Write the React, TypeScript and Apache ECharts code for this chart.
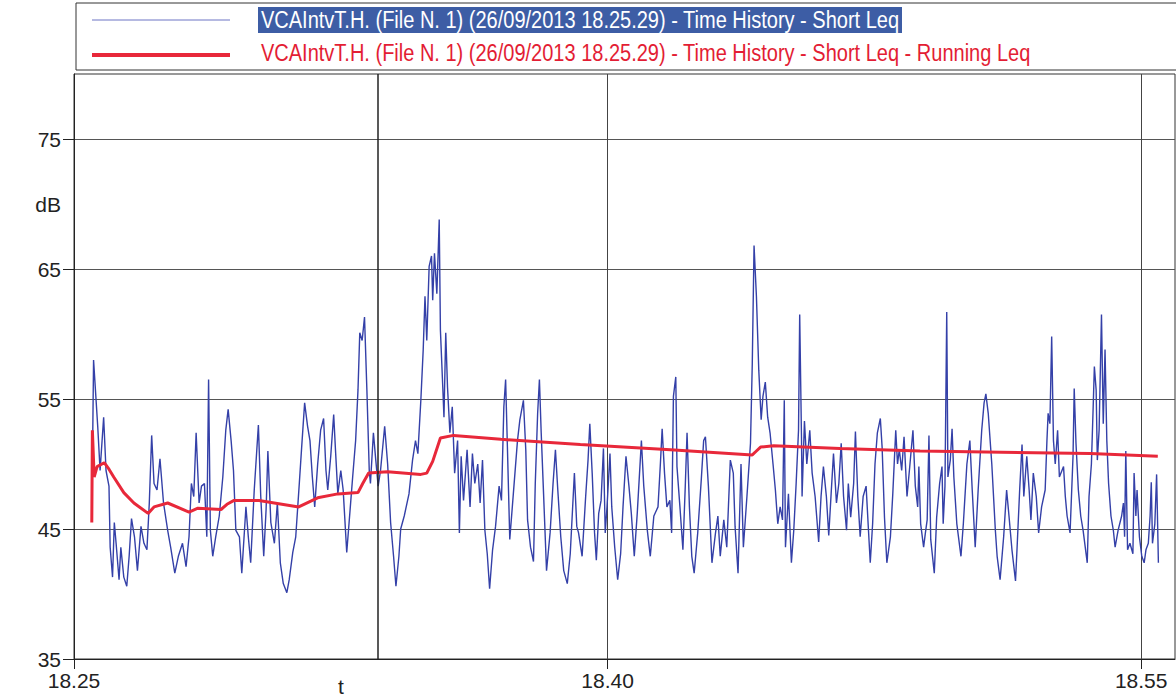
import { useEffect, useRef } from 'react';
import * as echarts from 'echarts';

const FONT = "'Liberation Sans', Arial, sans-serif";

const legendNames = [
  'VCAIntvT.H. (File N. 1) (26/09/2013 18.25.29) - Time History - Short Leq',
  'VCAIntvT.H. (File N. 1) (26/09/2013 18.25.29) - Time History - Short Leq - Running Leq',
];

// x axis: seconds after 18:25:00
const xTickSeconds = [0, 900, 1800];
const xTickLabels = ['18.25', '18.40', '18.55'];
const xAxisName = 't';
const yTickValues = [35, 45, 55, 65, 75];
const yUnitLabel = 'dB';
const yUnitValue = 70;
const cursorSecond = 512;

// [seconds after 18:25:00, dB]
const shortLeq: [number, number][] = [
  [30, 45.6], [33, 58.0], [40, 52.9], [44, 49.5], [50, 53.6], [54, 49.5], [59, 48.3], [61, 43.6], [65, 41.3], [68, 45.5],
  [71, 43.9], [76, 41.1], [79, 43.6], [84, 41.3], [89, 40.6], [93, 42.9], [97, 45.8], [102, 44.4], [107, 41.8], [113, 45.2],
  [118, 43.9], [123, 43.4], [127, 47.0], [131, 52.2], [135, 48.5], [140, 48.0], [145, 50.4], [151, 47.0], [158, 44.9], [163, 43.6],
  [170, 41.6], [176, 42.9], [183, 43.9], [189, 42.1], [194, 44.4], [198, 48.5], [202, 47.5], [206, 52.4], [211, 47.0], [215, 48.3],
  [220, 48.5], [224, 44.4], [227, 56.5], [230, 44.9], [234, 42.9], [239, 44.4], [245, 46.0], [251, 49.0], [256, 52.6], [260, 54.2],
  [265, 51.8], [269, 49.5], [273, 44.9], [279, 44.4],
  [283, 41.6], [290, 46.7], [294, 44.4], [298, 42.4], [304, 48.0], [311, 53.0], [315, 47.5], [320, 42.9], [324, 46.5], [327, 51.0],
  [332, 45.5], [338, 43.9], [343, 47.0], [348, 42.4], [353, 40.8], [359, 40.1], [363, 41.1], [369, 43.2], [374, 44.4], [380, 48.5],
  [384, 51.3], [389, 54.7], [394, 52.9], [398, 51.8], [402, 49.0], [406, 46.7], [411, 50.0], [416, 52.6], [421, 53.5], [425, 49.5],
  [428, 48.0], [433, 50.6], [438, 53.8], [441, 51.1], [445, 47.7], [450, 49.5], [454, 48.0], [460, 43.2], [464, 45.5], [470, 49.0],
  [475, 51.8], [479, 55.7], [482, 60.1], [486, 59.5], [490, 61.3], [494, 55.7], [498, 49.5], [500, 48.5], [505, 52.4], [509, 50.3],
  [513, 48.3], [517, 49.5], [524, 52.9], [529, 50.0], [534, 45.5], [539, 42.9], [543, 40.6], [548, 42.9], [551, 45.0],
  [557, 46.0], [565, 47.7], [571, 50.3], [576, 51.8], [580, 50.8], [585, 54.9], [589, 58.8], [592, 62.9], [595, 59.5], [599, 65.2],
  [603, 66.0], [605, 62.6], [608, 66.2], [612, 63.1], [616, 68.8], [618, 60.3], [622, 55.9], [624, 53.6], [627, 60.1], [630, 55.9],
  [634, 52.4], [638, 54.4], [642, 49.3], [647, 51.8], [650, 44.7], [653, 50.6], [657, 47.2], [663, 51.1], [668, 46.7], [672, 50.8],
  [676, 48.5], [681, 50.0], [685, 47.0], [689, 50.3], [693, 44.9], [697, 43.1], [701, 40.4], [706, 43.4], [711, 45.2], [717, 48.3],
  [721, 47.2], [725, 54.4], [728, 56.5], [731, 51.3], [735, 44.2], [741, 47.7], [748, 51.8], [752, 53.4], [758, 54.9], [762, 51.1],
  [765, 45.7], [770, 43.6], [775, 42.5], [778, 48.5], [782, 53.9], [785, 56.5], [788, 52.4], [792, 47.7], [797, 41.8], [803, 44.7],
  [808, 48.5], [812, 51.1], [816, 48.0], [821, 44.4], [826, 41.8], [832, 40.8], [837, 43.1],
  [844, 49.3], [848, 45.2], [851, 44.7], [857, 42.9], [863, 47.5], [867, 50.3], [870, 53.1], [874, 49.3], [878, 44.7], [881, 42.6],
  [885, 46.2], [889, 47.2], [893, 51.2], [896, 44.7], [899, 46.7], [904, 50.8], [907, 46.7], [912, 43.6], [917, 41.1], [922, 43.1],
  [926, 46.7], [931, 50.6], [936, 48.3], [940, 46.2], [945, 42.9], [950, 46.2], [957, 51.8], [961, 48.3], [967, 44.9], [972, 42.9],
  [978, 46.0], [985, 46.7], [989, 50.0], [992, 52.7], [996, 49.3], [1000, 46.7], [1005, 47.2], [1008, 44.7], [1011, 55.2], [1015, 56.7],
  [1017, 49.8], [1022, 46.7], [1027, 43.4], [1031, 48.3], [1034, 52.4], [1038, 46.7], [1042, 42.9], [1046, 41.6], [1052, 44.7], [1058, 48.8],
  [1062, 51.8], [1065, 52.1], [1070, 48.3], [1076, 42.4], [1082, 44.7], [1086, 46.0], [1090, 42.9], [1096, 45.7], [1101, 43.6], [1107, 50.3],
  [1112, 49.3], [1115, 45.2], [1120, 41.6], [1125, 50.0], [1129, 43.6], [1135, 47.5], [1141, 51.6],
  [1144, 57.7], [1147, 66.8], [1151, 62.9], [1155, 57.2], [1159, 53.4], [1162, 55.2], [1166, 56.3], [1170, 53.6], [1174, 52.4], [1179, 50.0],
  [1183, 48.0], [1187, 45.4], [1191, 46.7], [1195, 45.7], [1198, 54.9], [1200, 43.6], [1205, 47.7], [1210, 42.4], [1214, 44.9], [1218, 48.5],
  [1222, 52.6], [1224, 61.5], [1227, 52.1], [1228, 47.5], [1232, 53.3], [1236, 50.0], [1241, 52.6], [1245, 49.3], [1250, 47.5], [1256, 44.0],
  [1260, 47.5], [1264, 49.8], [1269, 47.5], [1273, 44.5], [1277, 47.7], [1281, 50.8], [1286, 47.0], [1290, 48.5], [1294, 51.6], [1298, 47.5],
  [1303, 44.9], [1306, 48.5], [1310, 45.9], [1315, 48.5], [1318, 52.5], [1322, 47.5], [1326, 44.4], [1331, 47.5], [1336, 48.3], [1340, 44.9],
  [1343, 42.4], [1347, 45.4], [1351, 50.0], [1355, 52.4], [1360, 53.5], [1363, 51.3], [1367, 45.9], [1371, 42.4], [1377, 44.4], [1381, 47.7],
  [1386, 52.6], [1389, 50.0], [1392, 51.1], [1396, 49.5], [1400, 52.1], [1405, 47.5], [1410, 50.0], [1415, 52.6], [1419, 48.3], [1423, 46.7],
  [1425, 49.8], [1428, 45.4], [1433, 43.6], [1436, 44.7], [1439, 45.7], [1442, 52.2], [1445, 44.2], [1451, 41.6], [1455, 45.9], [1460, 48.5],
  [1464, 49.8], [1466, 45.4], [1469, 48.3], [1472, 61.7], [1474, 49.0], [1478, 50.3], [1481, 52.7], [1484, 49.0], [1489, 45.4], [1496, 42.9],
  [1500, 45.4], [1506, 50.0], [1511, 51.8], [1515, 48.0], [1520, 43.6], [1525, 48.0], [1531, 52.6], [1535, 54.7], [1538, 55.4], [1542, 53.9],
  [1548, 50.0], [1554, 44.9], [1557, 42.9], [1562, 41.1], [1568, 44.4], [1573, 48.0], [1577, 46.0], [1582, 43.4], [1588, 41.0], [1591, 43.9],
  [1595, 48.0], [1599, 51.5], [1602, 47.5], [1607, 50.6], [1611, 48.0], [1614, 45.7], [1618, 49.3], [1623, 47.5], [1627, 44.7], [1632, 46.7],
  [1638, 48.0], [1641, 51.8], [1643, 53.9], [1646, 53.1], [1649, 59.8], [1652, 51.8], [1655, 50.0], [1659, 52.6], [1662, 49.0], [1669, 49.8],
  [1672, 47.5], [1675, 46.0], [1680, 44.7], [1685, 50.6], [1687, 55.8], [1690, 51.6], [1694, 48.0], [1698, 46.0], [1702, 44.9], [1707, 43.1],
  [1709, 42.4], [1712, 47.5], [1716, 50.0], [1719, 54.4], [1721, 57.5], [1724, 55.7], [1726, 50.3], [1729, 52.6], [1733, 61.5], [1736, 53.1],
  [1739, 58.8], [1742, 51.8], [1745, 48.5], [1749, 46.0], [1753, 44.9], [1756, 43.6], [1761, 44.9], [1767, 46.0], [1770, 47.0], [1772, 44.4],
  [1774, 51.0], [1777, 43.4], [1781, 43.9], [1786, 43.1], [1788, 49.3], [1791, 46.0], [1793, 48.0], [1797, 44.4], [1801, 42.9], [1805, 42.4],
  [1808, 43.4], [1812, 43.9], [1815, 46.0], [1817, 48.6], [1819, 43.9], [1823, 45.4], [1826, 49.2], [1829, 42.4],
];

const runningLeq: [number, number][] = [
  [30, 45.5], [31, 52.6], [34, 49.0], [39, 49.8], [51, 50.1], [59, 49.6], [67, 49.0], [84, 47.8], [101, 47.0], [125, 46.2],
  [135, 46.7], [158, 47.0], [194, 46.3], [209, 46.6], [248, 46.5], [258, 46.9], [270, 47.2], [312, 47.2], [379, 46.7], [411, 47.4],
  [445, 47.7], [479, 47.8], [487, 48.5], [497, 49.3], [529, 49.4], [585, 49.2], [595, 49.3], [605, 50.2], [618, 52.0], [640, 52.2],
  [720, 51.9], [854, 51.5], [1006, 51.1], [1144, 50.7], [1151, 51.0], [1158, 51.3], [1180, 51.4], [1292, 51.2], [1427, 51.0], [1714, 50.8],
  [1828, 50.6],
];

export default function App() {
  const ref = useRef<HTMLDivElement>(null);
  useEffect(() => {
    const chart = echarts.init(ref.current!, null, { renderer: 'svg' });
    chart.setOption({
      animation: false,
      backgroundColor: '#ffffff',
      textStyle: { fontFamily: FONT },
      grid: { left: 74, right: 1, top: 74, bottom: 40, show: true, borderColor: '#333', borderWidth: 1, containLabel: false },
      xAxis: {
        type: 'value', min: 0, max: 1857, interval: 900,
        axisLine: { show: true, onZero: false, lineStyle: { color: '#222', width: 1 } },
        axisTick: { show: true, length: 10, customValues: xTickSeconds, lineStyle: { color: '#222' } },
        axisLabel: {
          customValues: xTickSeconds, margin: 11, fontSize: 21, color: '#222', fontFamily: FONT,
          formatter: (v: number) => { const i = xTickSeconds.indexOf(v); return i >= 0 ? xTickLabels[i] : ''; },
        },
        splitLine: { show: true, lineStyle: { color: '#444', width: 1 } },
      },
      yAxis: {
        type: 'value', min: 35, max: 80, interval: 10,
        axisLine: { show: true, onZero: false, lineStyle: { color: '#222', width: 1 } },
        axisTick: { show: true, length: 11, customValues: yTickValues, lineStyle: { color: '#222' } },
        axisLabel: {
          customValues: [...yTickValues, yUnitValue], margin: 13, fontSize: 21, color: '#222', fontFamily: FONT,
          formatter: (v: number) => (v === yUnitValue ? yUnitLabel : String(v)),
        },
        splitLine: { show: true, lineStyle: { color: '#555', width: 1 } },
      },
      series: [
        {
          name: legendNames[0], type: 'line', data: shortLeq, showSymbol: false, z: 2,
          lineStyle: { color: '#3440a8', width: 1.4 },
          markLine: {
            silent: true, symbol: ['none', 'none'], label: { show: false },
            lineStyle: { color: '#222', type: 'solid', width: 1.5 },
            data: [{ xAxis: cursorSecond }],
          },
        },
        {
          name: legendNames[1], type: 'line', data: runningLeq, showSymbol: false, z: 3,
          lineStyle: { color: '#e8283a', width: 3 },
        },
      ],
      graphic: [
        { type: 'rect', shape: { x: 76, y: 3, width: 1110, height: 67 }, style: { fill: '#fff', stroke: '#333', lineWidth: 1 }, z: 10 },
        { type: 'rect', shape: { x: 258, y: 7, width: 644, height: 26 }, style: { fill: '#3d5da5' }, z: 11 },
        { type: 'line', shape: { x1: 92, y1: 20, x2: 230, y2: 20 }, style: { stroke: '#6d74c4', lineWidth: 1 }, z: 11 },
        { type: 'line', shape: { x1: 92, y1: 55, x2: 230, y2: 55 }, style: { stroke: '#e8283a', lineWidth: 4 }, z: 11 },
        { type: 'text', x: 261, y: 20, scaleX: 0.87, style: { text: legendNames[0], fill: '#fff', font: `23px ${FONT}`, verticalAlign: 'middle', align: 'left' }, z: 12 },
        { type: 'text', x: 261, y: 53, scaleX: 0.87, style: { text: legendNames[1], fill: '#e31d34', font: `23px ${FONT}`, verticalAlign: 'middle', align: 'left' }, z: 12 },
        { type: 'text', x: 341, y: 686, style: { text: xAxisName, fill: '#222', font: `21px ${FONT}`, verticalAlign: 'middle', align: 'center' }, z: 12 },
      ],
    });
    return () => chart.dispose();
  }, []);
  return <div ref={ref} style={{ position: 'fixed', left: 0, top: 0, width: 1176, height: 699 }} />;
}
